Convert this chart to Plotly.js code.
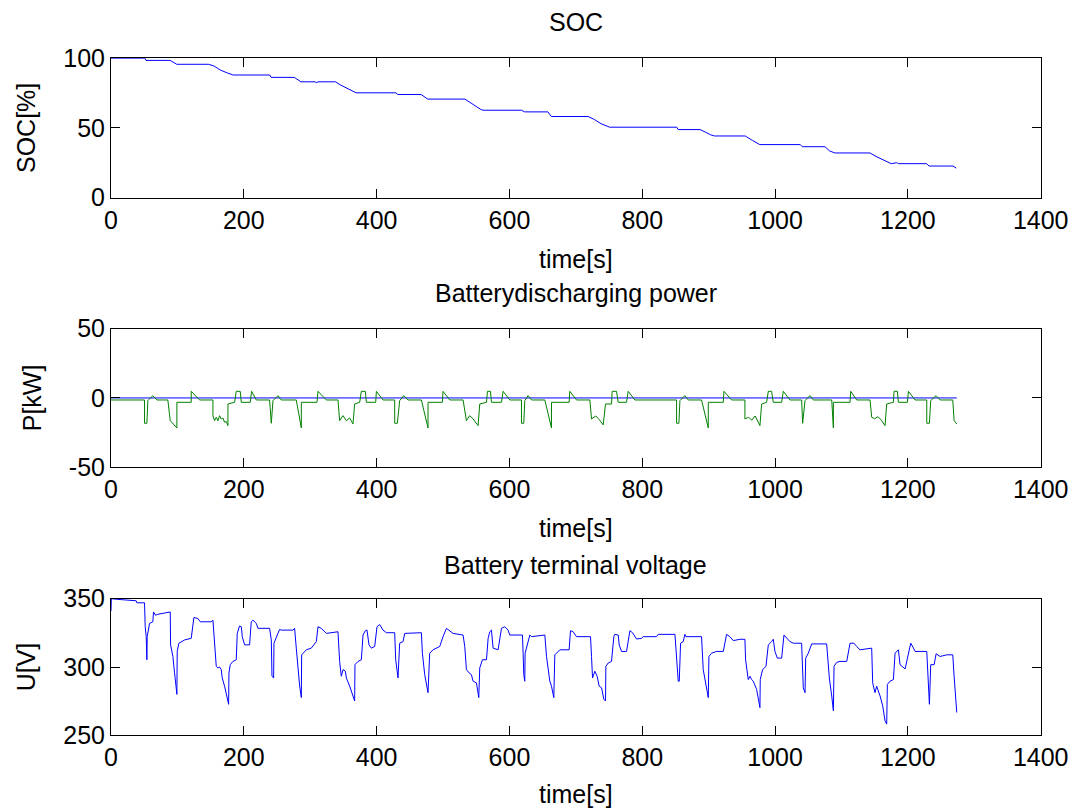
<!DOCTYPE html>
<html>
<head>
<meta charset="utf-8">
<script src="https://cdn.plot.ly/plotly-3.0.1.min.js"></script>
<style>html,body{margin:0;padding:0;background:#fff;}#chart{width:1073px;height:808px;}</style>
</head>
<body>
<div id="chart"></div>
<script>
// ---- SOC subplot ----
const socTime = [0, 51.5, 52.5, 89, 99, 147, 155, 165, 175, 184, 239, 241, 276, 286, 308, 309.5, 311, 338, 345, 355, 362, 369, 429, 432, 467, 477, 533, 540, 548, 556, 560, 575, 576, 618, 623, 658, 663, 718.5, 728, 738, 751, 852, 854, 887, 895, 903, 909, 955, 966, 977, 1038, 1041, 1075, 1082, 1090, 1143, 1152, 1162, 1170, 1175, 1183, 1186, 1228, 1232, 1268, 1273];
const socValue = [100, 100, 98.5, 98.5, 95.7, 95.7, 94.5, 91.5, 89.5, 88, 88, 86.3, 86.3, 83.1, 83.1, 82.2, 83.1, 83.1, 81, 78.5, 76.5, 75.2, 75.2, 74.0, 74.0, 70.7, 70.7, 68.5, 65.5, 63.5, 62.7, 62.7, 62.7, 62.7, 61.5, 61.5, 58.2, 58.2, 56, 53, 50.5, 50.5, 48.8, 48.8, 47, 45, 44.2, 44.2, 41, 38, 38, 36.5, 36.5, 33.5, 32, 32, 29.5, 27, 25, 24.3, 25, 24.3, 24.3, 22.6, 22.6, 21.1];

// ---- Power subplot ----
const refTime = [0, 1273.6];
const refPower = [0, 0];
const powTime = [0, 50.5, 50.5, 54.0, 55.5, 63.0, 69.1, 85.6, 89.2, 99.2, 99.2, 120.8, 120.8, 133.4, 153.5, 153.5, 156.0, 158.5, 161.0, 163.5, 166, 168.5, 171, 173.5, 176.1, 176.1, 186.1, 188.6, 194.6, 196.2, 209.7, 211.7, 218.8, 238.8, 241.4, 243.9, 251.4, 256.4, 279.0, 284.1, 286.6, 286.6, 310.2, 311.7, 324.2, 341.8, 344.3, 349.4, 354.4, 359.4, 364.4, 366.9, 374.5, 377.0, 383.0, 384.5, 398.6, 399.6, 409.6, 427.2, 427.2, 431.2, 434.7, 440.8, 447.3, 467.4, 477.4, 477.4, 499.0, 500.0, 510.1, 530.2, 535.2, 540.2, 545.3, 552.8, 555.3, 565.4, 566.9, 571.4, 572.9, 588.0, 590.5, 600.5, 618.1, 618.1, 621.6, 623.1, 628.1, 633.2, 653.3, 663.3, 663.3, 689.9, 690.9, 701.0, 721.1, 723.6, 730, 735, 741.2, 744.7, 753.7, 754.7, 761.3, 763.8, 776.3, 778.8, 788.9, 851.7, 851.7, 855.2, 856.7, 864.2, 869.3, 889.3, 899.4, 899.4, 922.0, 923.0, 934.5, 954.6, 954.6, 960, 965, 970, 977.2, 979.8, 987.3, 989.8, 994.8, 997.3, 1009.9, 1012.4, 1022.4, 1040.0, 1041.5, 1045.1, 1052.6, 1057.6, 1085.3, 1087.8, 1087.8, 1112.9, 1113.9, 1122.9, 1143.0, 1145.5, 1150, 1155, 1160, 1165.6, 1168.1, 1178.2, 1179.2, 1184.2, 1185.7, 1199.3, 1200.8, 1210.8, 1228.4, 1228.4, 1232.4, 1234.4, 1242.5, 1248.5, 1267.6, 1269.6, 1273.6];
const powValue = [-1.46, -1.46, -18.28, -18.28, -1.94, 1.67, -1.46, -1.46, -16.36, -21.65, -3.14, -3.14, 4.79, -1.46, -1.46, -12.76, -16.4, -14, -16.5, -12.8, -15.2, -14.5, -17.5, -17, -19.97, -4.35, -3.14, 4.79, 4.79, -3.14, -3.14, 4.79, -1.46, -1.46, -18.28, -1.94, 1.67, -1.46, -1.46, -13.96, -21.65, -3.14, -3.14, 4.79, -1.46, -1.46, -16.36, -12.76, -16.4, -14.5, -18.76, -4.35, -3.14, 4.79, 4.79, -3.14, -3.14, 4.79, -1.46, -1.46, -18.28, -18.28, -1.94, 1.67, -1.46, -1.46, -21.65, -3.14, -3.14, 4.79, -1.46, -1.46, -16.36, -12.76, -15.2, -19.97, -4.35, -3.14, 4.79, 4.79, -3.14, -3.14, 4.79, -1.46, -1.46, -18.28, -18.28, -1.94, 1.67, -1.46, -1.46, -21.65, -3.14, -3.14, 4.79, -1.46, -1.46, -15.16, -13, -15.5, -19.48, -4.35, -4.35, 4.79, 4.79, -3.14, -3.14, 4.79, -1.46, -1.46, -18.28, -18.28, -1.94, 1.67, -1.46, -1.46, -21.65, -3.14, -3.14, 4.79, -1.46, -1.46, -15.16, -14, -16, -13, -19.97, -4.35, -3.14, 4.79, 4.79, -3.14, -3.14, 4.79, -1.46, -1.46, -18.28, -1.94, 1.67, -1.46, -1.46, -21.65, -3.14, -3.14, 4.79, -1.46, -1.46, -13.96, -15, -13.5, -16, -19.97, -4.35, -3.14, 4.79, 4.79, -3.14, -3.14, 4.79, -1.46, -1.46, -18.28, -18.28, -1.94, 1.67, -1.46, -1.46, -16.36, -18.76];

// ---- Voltage subplot ----
const voltTime = [0, 0.5, 10.3, 37.9, 38.9, 50.5, 51.5, 53, 54, 54.5, 58, 63, 64, 67.1, 70.6, 75.6, 85.6, 89.2, 89.7, 93.2, 95.7, 99.2, 99.7, 102.2, 110.8, 118.3, 120.8, 124.8, 130.8, 134.4, 150.9, 153.5, 156, 158.5, 161, 163.5, 166, 167.5, 171, 173.5, 177.1, 177.6, 179.6, 183.6, 188.6, 190.1, 193.6, 196.2, 197.7, 201.2, 208.7, 211.2, 213.7, 218.8, 221.3, 238.8, 241.4, 242.4, 244.9, 245.4, 248.9, 251.4, 253.9, 256.4, 274, 276.5, 279, 281.5, 284.1, 286.6, 287.1, 294.1, 301.6, 309.2, 311.7, 316.7, 321.7, 324.2, 341.8, 344.3, 346.8, 349.4, 352.9, 354.4, 359.4, 364.4, 366.9, 367.4, 372, 377, 379.5, 383, 385.5, 388.5, 392, 397.1, 400.6, 404.6, 409.6, 414.7, 427.2, 428.7, 431.2, 432.2, 434.7, 439.8, 442.3, 447.3, 467.4, 468.9, 472.4, 477.4, 479.9, 485, 495, 500, 505.1, 515.1, 530.2, 532.7, 535.2, 539.2, 542.7, 545.3, 550.3, 553.8, 555.3, 559.3, 565.4, 567.9, 570.4, 572.9, 575.4, 582.9, 588, 593, 598, 600.5, 619.6, 620.6, 621.6, 623.1, 623.6, 630.7, 633.2, 653.3, 655.8, 660.8, 663.3, 666.8, 668.3, 675.9, 689.9, 691.9, 695.9, 701, 722.1, 723.6, 725.1, 728.6, 732.1, 735.1, 738.7, 742.2, 744.7, 745.2, 748.7, 753.7, 757.2, 758.7, 763.8, 765.3, 768.8, 776.3, 778.8, 781.4, 785.4, 791.4, 798.9, 801.4, 821.5, 824, 849.2, 851.7, 854.2, 855.7, 857.7, 861.7, 864.2, 865.7, 889.3, 891.8, 896.9, 899.4, 900.4, 904.4, 911.9, 922, 927, 932, 937.1, 947.1, 954.6, 955.6, 959.6, 962.2, 964.7, 967.2, 972.2, 977.2, 977.7, 981.2, 986.3, 989.8, 994.8, 997.3, 999.8, 1003.4, 1009.9, 1013.4, 1022.4, 1027.5, 1040, 1042.5, 1045.1, 1046.1, 1050.1, 1055.1, 1077.7, 1081.7, 1085.3, 1087.8, 1088.8, 1092.8, 1097.8, 1107.9, 1112.9, 1118.9, 1122.9, 1127.9, 1145.5, 1147, 1150.5, 1153, 1158.1, 1162.1, 1165.6, 1168.1, 1169.1, 1173.1, 1178.2, 1180.7, 1185.7, 1188.2, 1195.8, 1200.8, 1204.3, 1208.3, 1210.8, 1228.4, 1230.9, 1232.4, 1234.4, 1239.5, 1242.5, 1248.5, 1258.5, 1267.6, 1269.6, 1271.6, 1273.6];
const voltValue = [341, 350, 349.5, 348.5, 347, 347, 329.5, 322.2, 305.3, 322.2, 331.9, 333.1, 340.3, 337.9, 338.6, 339.1, 340.3, 340.3, 316.2, 307.7, 295.7, 280, 311.4, 317.4, 319.8, 320.3, 321.0, 336.2, 335.5, 333.1, 333.1, 334.3, 318.6, 300.5, 299.3, 300, 298.1, 292, 286, 281.2, 272.7, 295.7, 301.7, 304.1, 305.3, 324.6, 330, 329.5, 322.2, 316.2, 316.2, 333.1, 334.3, 331.9, 328.3, 328.3, 319.8, 293.2, 292, 317.4, 321, 324.6, 327.5, 327, 327, 328.3, 313.8, 298.1, 286, 277.6, 308.9, 312.6, 313.8, 318.6, 329.5, 328.3, 325.8, 324.6, 325.8, 304.1, 293.2, 298.1, 296.9, 292, 286, 277.6, 275.1, 301.7, 304.1, 305.3, 323.4, 326.6, 327, 316.2, 313.8, 315, 329.5, 331.1, 327, 325.1, 325.1, 305.3, 292, 292, 317.4, 318.6, 324.6, 324.6, 325.1, 310.1, 294.4, 281.2, 310.1, 312.6, 315, 322.2, 328.3, 324.6, 323.4, 315, 298.1, 295.7, 294.4, 289.6, 288.4, 277.6, 299.3, 305.3, 305.3, 321, 325.8, 327, 313.8, 312.6, 328.3, 329.5, 327, 323.4, 323.4, 310.1, 294.4, 289.6, 310.1, 323.4, 322.2, 323.4, 307.7, 289.6, 286, 277.6, 308.9, 312.6, 312.6, 326.6, 325.8, 322.2, 322.2, 307.7, 292, 296.9, 293.2, 286, 284.8, 276.4, 275.1, 300.5, 302.9, 304.1, 322.2, 323.9, 323.4, 316.2, 311.4, 311.4, 319.8, 326.6, 325.1, 320.5, 321, 322.2, 322.2, 323.9, 323.9, 305.3, 289.6, 289.6, 317.4, 318.6, 323.9, 322.2, 322.2, 298.1, 286, 277.6, 307.7, 310.1, 311.4, 311.4, 323.9, 322.2, 319.3, 320.3, 320.3, 305.3, 290.8, 293.2, 290.8, 289.6, 283.6, 270.3, 290.8, 298.1, 300.5, 316.2, 318.6, 320.3, 311.4, 306.5, 306.5, 323.4, 318.6, 317.4, 317.4, 284.8, 281.2, 306.5, 310.1, 316.9, 316.9, 292, 278.8, 267.9, 300.5, 303.4, 304.1, 304.1, 317.4, 317.4, 315, 312.6, 313.8, 288.4, 281.2, 286, 278.8, 271.5, 260.6, 258.2, 287.2, 289.6, 290.8, 310.1, 312.6, 301.7, 298.6, 311.4, 317.4, 314, 311.4, 311.4, 290.8, 272.7, 301.7, 301.7, 309.7, 307.7, 308.9, 308.9, 293.2, 275.1, 266.7];

// ---- Text ----
const subplotTitles = ["SOC", "Batterydischarging power", "Battery terminal voltage"];
const xTitle = "time[s]";
const yTitles = ["SOC[%]", "P[kW]", "U[V]"];
const xTickVals = [0, 200, 400, 600, 800, 1000, 1200, 1400];
const socTicks = [0, 50, 100];
const powTicks = [-50, 0, 50];
const powTickText = ["-50", "0", "50"];
const voltTicks = [250, 300, 350];

const FONT = "Liberation Sans, Arial, Helvetica, sans-serif";
const W = 1073, H = 808;
const xDomain = [111 / W, 1040.7 / W];
function yDom(topPx, botPx) { return [1 - botPx / H, 1 - topPx / H]; }

function xAxis(anchor) {
  return {
    domain: xDomain, range: [0, 1400], anchor: anchor,
    tickvals: xTickVals, ticks: "inside", ticklen: 9, tickwidth: 1, tickcolor: "#000",
    showline: true, linecolor: "#000", linewidth: 1, mirror: "ticks",
    showgrid: false, zeroline: false,
    tickfont: { family: FONT, size: 25, color: "#000" },
    title: { text: xTitle, font: { family: FONT, size: 25, color: "#000" }, standoff: 17 },
    automargin: false
  };
}
function yAxis(anchor, dom, range, tv, tt, title) {
  return {
    domain: dom, range: range, anchor: anchor,
    tickvals: tv, ticktext: tt, ticks: "inside", ticklen: 9, tickwidth: 1, tickcolor: "#000",
    showline: true, linecolor: "#000", linewidth: 1, mirror: "ticks",
    showgrid: false, zeroline: false,
    tickfont: { family: FONT, size: 25, color: "#000" },
    title: { text: title, font: { family: FONT, size: 25, color: "#000" }, standoff: 20 },
    automargin: false
  };
}

const traces = [
  { x: socTime, y: socValue, xaxis: "x", yaxis: "y", type: "scatter", mode: "lines",
    line: { color: "#0000ff", width: 1 } },
  { x: refTime, y: refPower, xaxis: "x2", yaxis: "y2", type: "scatter", mode: "lines",
    line: { color: "#0000ff", width: 1 } },
  { x: powTime, y: powValue, xaxis: "x2", yaxis: "y2", type: "scatter", mode: "lines",
    line: { color: "#008000", width: 1 } },
  { x: voltTime, y: voltValue, xaxis: "x3", yaxis: "y3", type: "scatter", mode: "lines",
    line: { color: "#0000ff", width: 1 } }
];

const cx = (xDomain[0] + xDomain[1]) / 2;
const titleY = [22, 293, 565];
const layout = {
  width: W, height: H,
  margin: { l: 0, r: 0, t: 0, b: 0 },
  paper_bgcolor: "#fff", plot_bgcolor: "#fff",
  showlegend: false,
  xaxis: xAxis("y"),
  xaxis2: xAxis("y2"),
  xaxis3: xAxis("y3"),
  yaxis: yAxis("x", yDom(58.3, 197.5), [0, 100], socTicks, socTicks.map(String), yTitles[0]),
  yaxis2: yAxis("x2", yDom(328.7, 467.2), [-50, 50], powTicks, powTickText, yTitles[1]),
  yaxis3: yAxis("x3", yDom(598.7, 735.3), [250, 350], voltTicks, voltTicks.map(String), yTitles[2]),
  annotations: subplotTitles.map((t, i) => ({
    text: t, xref: "paper", yref: "paper", x: cx, y: 1 - titleY[i] / H,
    xanchor: "center", yanchor: "middle", showarrow: false,
    font: { family: FONT, size: 25, color: "#000" }
  }))
};

Plotly.newPlot("chart", traces, layout, { staticPlot: true, displayModeBar: false });
</script>
</body>
</html>
